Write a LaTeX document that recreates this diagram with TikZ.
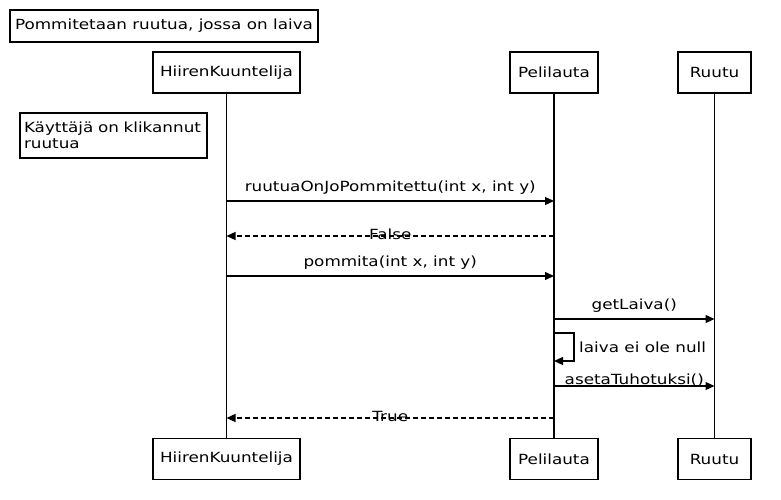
\documentclass[tikz,border=0pt]{standalone}
\usepackage{fontspec}
\setmainfont{DejaVu Sans}[FakeStretch=1.2]
\usetikzlibrary{arrows.meta}
\tikzset{
  actor/.style={draw, line width=1.3pt, minimum height=41pt, inner sep=3pt, font=\fontsize{14}{16}\selectfont},
  note/.style={draw, line width=1.3pt, inner sep=4pt, font=\fontsize{14}{16}\selectfont},
  life/.style={line width=1.3pt},
  msg/.style={line width=1.3pt, -{Triangle[length=9pt,width=8pt]}},
  ret/.style={msg, dash pattern=on 5pt off 3pt},
  lbl/.style={font=\fontsize{14}{16}\selectfont, inner sep=1pt}
}
\begin{document}
\begin{tikzpicture}[x=1pt,y=-1pt]
  \useasboundingbox (0,0) rectangle (781,500);
  \node[note, minimum width=308pt, minimum height=32pt] (title) at (164,26) {Pommitetaan ruutua, jossa on laiva};
  % osallistujat
  \node[actor, minimum width=147pt] (hkT) at (226.5,72.5) {HiirenKuuntelija};
  \node[actor, minimum width=88pt] (plT) at (554,72.5) {Pelilauta};
  \node[actor, minimum width=73pt] (ruT) at (714.5,72.5) {Ruutu};
  \node[actor, minimum width=147pt] (hkB) at (226.5,459) {HiirenKuuntelija};
  \node[actor, minimum width=88pt] (plB) at (554,459) {Pelilauta};
  \node[actor, minimum width=73pt] (ruB) at (714.5,459) {Ruutu};
  \draw[life] (hkT.south) -- (hkB.north);
  \draw[life] (plT.south) -- (plB.north);
  \draw[life] (ruT.south) -- (ruB.north);
  \node[note, text width=179pt, minimum height=45pt, align=left] (click) at (113.5,135.5) {Käyttäjä on klikannut\\ruutua};
  % viestit
  \draw[msg] (hkT |- 0,201) -- node[lbl, above=5pt] (m1) {ruutuaOnJoPommitettu(int x, int y)} (plT |- 0,201);
  \draw[ret] (plT |- 0,236) -- node[lbl, above=-5pt] (r1) {False} (hkT |- 0,236);
  \draw[msg] (hkT |- 0,276) -- node[lbl, above=5pt] (m2) {pommita(int x, int y)} (plT |- 0,276);
  \draw[msg] (plT |- 0,319) -- node[lbl, above=5pt] (m3) {getLaiva()} (ruT |- 0,319);
  \draw[msg] (plT |- 0,333) -- ++(20,0) -- ++(0,28) -- (plT |- 0,361);
  \node[lbl, anchor=west] (self) at (578,347) {laiva ei ole null};
  \draw[msg] (plT |- 0,386) -- node[lbl, above=-2pt] (m4) {asetaTuhotuksi()} (ruT |- 0,386);
  \draw[ret] (plT |- 0,418) -- node[lbl, above=-5pt] (r2) {True} (hkT |- 0,418);
\end{tikzpicture}
\end{document}
